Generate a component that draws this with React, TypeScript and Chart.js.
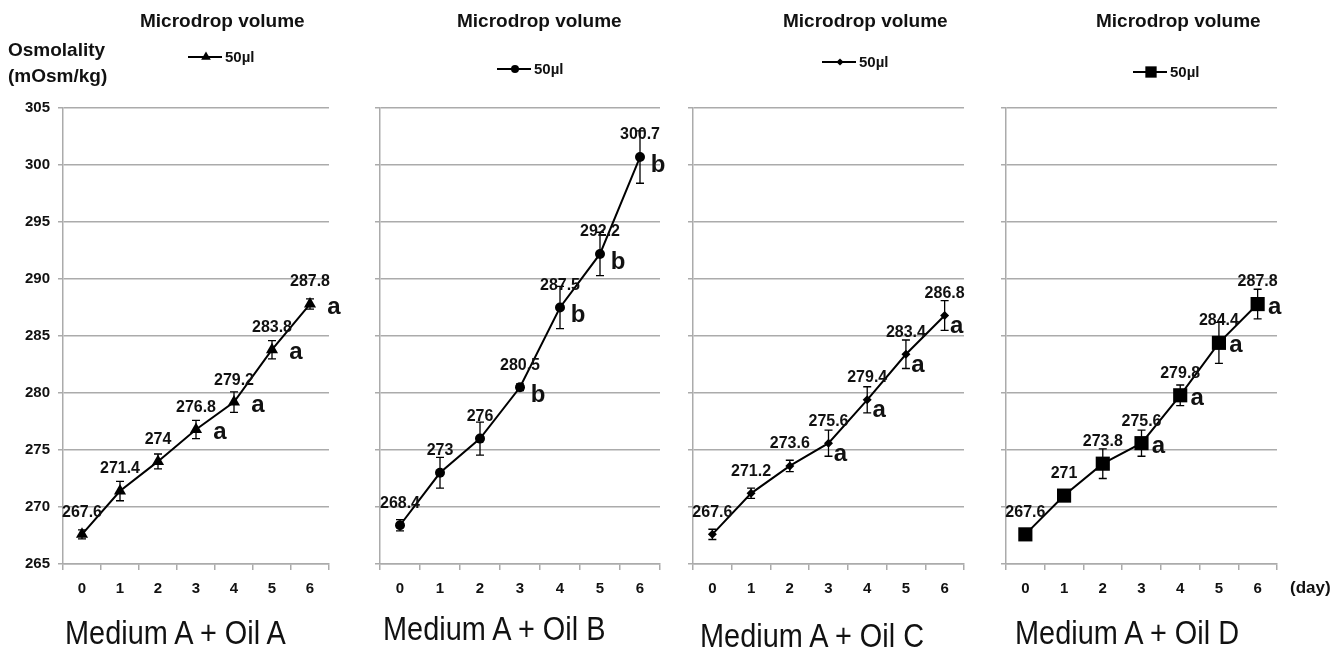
import React, { useEffect, useRef } from 'react';
import { Chart, registerables } from 'chart.js';

Chart.register(...registerables);

// ---------- data ----------
const days = ['0', '1', '2', '3', '4', '5', '6'];
const yMin = 265;
const yMax = 305;
const yStep = 5;

const oilAValues = [267.6, 271.4, 274, 276.8, 279.2, 283.8, 287.8];
const oilAErrors = [0.4, 0.85, 0.65, 0.8, 0.9, 0.8, 0.45];
const oilALetters = ['', '', '', 'a', 'a', 'a', 'a'];

const oilBValues = [268.4, 273, 276, 280.5, 287.5, 292.2, 300.7];
const oilBErrors = [0.5, 1.35, 1.45, 0.3, 1.85, 1.9, 2.3];
const oilBLetters = ['', '', '', 'b', 'b', 'b', 'b'];

const oilCValues = [267.6, 271.2, 273.6, 275.6, 279.4, 283.4, 286.8];
const oilCErrors = [0.45, 0.45, 0.5, 1.15, 1.15, 1.25, 1.3];
const oilCLetters = ['', '', '', 'a', 'a', 'a', 'a'];

const oilDValues = [267.6, 271, 273.8, 275.6, 279.8, 284.4, 287.8];
const oilDErrors = [0, 0, 1.3, 1.15, 0.9, 1.8, 1.3];
const oilDLetters = ['', '', '', 'a', 'a', 'a', 'a'];

const captions = ['Medium A + Oil A', 'Medium A + Oil B', 'Medium A + Oil C', 'Medium A + Oil D'];
const headerText = 'Microdrop volume';
const legendText = '50µl';
const yTitleLines = ['Osmolality', '(mOsm/kg)'];
const xUnitText = '(day)';

// ---------- layout / style ----------
const W = 1338;
const H = 649;
const PLOT_TOP = 108;
const PLOT_BOTTOM = 564;
const Y_AXIS_W = 40;
const FONT = "'Liberation Sans', Arial, sans-serif";
const GRID = '#ababab';
const INK = '#111';

type Marker = 'triangle' | 'circle' | 'rectRot' | 'rect';

interface PanelCfg {
  values: number[];
  errors: number[];
  letters: string[];
  caption: string;
  marker: Marker;
  radius: number;
  plotLeft: number;
  plotRight: number;
  letterDx: number;
  letterDy: number;
  legendX: number;
  legendY: number;
  headerX: number;
  captionX: number;
  captionY: number;
  showYLabels: boolean;
}

const panels: PanelCfg[] = [
  {
    values: oilAValues, errors: oilAErrors, letters: oilALetters, caption: captions[0],
    marker: 'triangle', radius: 7, plotLeft: 63, plotRight: 329,
    letterDx: 24, letterDy: 3, legendX: 188, legendY: 57, headerX: 140,
    captionX: 65, captionY: 632, showYLabels: true,
  },
  {
    values: oilBValues, errors: oilBErrors, letters: oilBLetters, caption: captions[1],
    marker: 'circle', radius: 5, plotLeft: 380, plotRight: 660,
    letterDx: 18, letterDy: 8, legendX: 497, legendY: 69, headerX: 457,
    captionX: 383, captionY: 628, showYLabels: false,
  },
  {
    values: oilCValues, errors: oilCErrors, letters: oilCLetters, caption: captions[2],
    marker: 'rectRot', radius: 4.5, plotLeft: 693, plotRight: 964,
    letterDx: 12, letterDy: 11, legendX: 822, legendY: 62, headerX: 783,
    captionX: 700, captionY: 635, showYLabels: false,
  },
  {
    values: oilDValues, errors: oilDErrors, letters: oilDLetters, caption: captions[3],
    marker: 'rect', radius: 10, plotLeft: 1006, plotRight: 1277,
    letterDx: 17, letterDy: 3, legendX: 1133, legendY: 72, headerX: 1096,
    captionX: 1015, captionY: 632, showYLabels: false,
  },
];

function drawMarker(ctx: CanvasRenderingContext2D, style: Marker, x: number, y: number, r: number) {
  ctx.beginPath();
  if (style === 'circle') {
    ctx.arc(x, y, r, 0, Math.PI * 2);
  } else if (style === 'triangle') {
    for (let k = 0; k < 3; k++) {
      const a = (k * 2 * Math.PI) / 3;
      const px = x + Math.sin(a) * r;
      const py = y - Math.cos(a) * r;
      if (k === 0) ctx.moveTo(px, py);
      else ctx.lineTo(px, py);
    }
    ctx.closePath();
  } else if (style === 'rectRot') {
    ctx.moveTo(x, y - r);
    ctx.lineTo(x + r, y);
    ctx.lineTo(x, y + r);
    ctx.lineTo(x - r, y);
    ctx.closePath();
  } else {
    const s = Math.SQRT1_2 * r;
    ctx.rect(x - s, y - s, 2 * s, 2 * s);
  }
  ctx.fill();
}

function makeOverlay(cfg: PanelCfg) {
  return {
    id: 'overlay',
    afterDatasetsDraw(chart: any) {
      const ctx: CanvasRenderingContext2D = chart.ctx;
      const ys = chart.scales.y;
      const meta = chart.getDatasetMeta(0);
      const vals: number[] = chart.data.datasets[0].data;
      ctx.save();
      ctx.strokeStyle = '#000';
      ctx.lineWidth = 1.3;
      meta.data.forEach((pt: any, i: number) => {
        const e = cfg.errors[i];
        if (!e) return;
        const x = pt.x;
        const yt = ys.getPixelForValue(vals[i] + e);
        const yb = ys.getPixelForValue(vals[i] - e);
        ctx.beginPath();
        ctx.moveTo(x, yt);
        ctx.lineTo(x, yb);
        ctx.moveTo(x - 4, yt);
        ctx.lineTo(x + 4, yt);
        ctx.moveTo(x - 4, yb);
        ctx.lineTo(x + 4, yb);
        ctx.stroke();
      });
      // value labels
      ctx.fillStyle = INK;
      ctx.font = `bold 16px ${FONT}`;
      ctx.textAlign = 'center';
      ctx.textBaseline = 'middle';
      meta.data.forEach((pt: any, i: number) => {
        ctx.fillText(String(vals[i]), pt.x, pt.y - 22);
      });
      // significance letters
      ctx.font = `bold 24px ${FONT}`;
      meta.data.forEach((pt: any, i: number) => {
        const l = cfg.letters[i];
        if (!l) return;
        ctx.fillText(l, pt.x + cfg.letterDx, pt.y + cfg.letterDy);
      });
      // legend
      ctx.strokeStyle = '#000';
      ctx.lineWidth = 2;
      ctx.beginPath();
      ctx.moveTo(cfg.legendX, cfg.legendY);
      ctx.lineTo(cfg.legendX + 34, cfg.legendY);
      ctx.stroke();
      ctx.fillStyle = '#000';
      drawMarker(ctx, cfg.marker, cfg.legendX + 18, cfg.legendY, cfg.radius * 0.8);
      ctx.fillStyle = INK;
      ctx.font = `bold 15px ${FONT}`;
      ctx.textAlign = 'left';
      ctx.fillText(legendText, cfg.legendX + 37, cfg.legendY + 1);
      ctx.restore();
    },
  };
}

function PanelChart({ cfg }: { cfg: PanelCfg }) {
  const ref = useRef<HTMLCanvasElement | null>(null);
  useEffect(() => {
    if (!ref.current) return;
    const chart = new Chart(ref.current, {
      type: 'line',
      data: {
        labels: days,
        datasets: [
          {
            data: cfg.values,
            borderColor: '#000',
            borderWidth: 2,
            backgroundColor: '#000',
            pointStyle: cfg.marker,
            pointRadius: cfg.radius,
            pointBackgroundColor: '#000',
            pointBorderColor: '#000',
            pointBorderWidth: 0,
            tension: 0,
            fill: false,
          },
        ],
      },
      options: {
        responsive: false,
        animation: false,
        devicePixelRatio: 1,
        events: [],
        layout: {
          padding: {
            left: cfg.plotLeft - Y_AXIS_W,
            right: W - cfg.plotRight,
            top: PLOT_TOP,
            bottom: 0,
          },
        },
        plugins: {
          legend: { display: false },
          tooltip: { enabled: false },
          title: { display: false },
        },
        scales: {
          x: {
            type: 'category',
            offset: true,
            grid: {
              offset: true,
              drawOnChartArea: false,
              drawTicks: true,
              tickLength: 6,
              color: GRID,
              lineWidth: 1.5,
            },
            border: { color: GRID, width: 1.5 },
            ticks: {
              color: INK,
              font: { family: FONT, size: 15, weight: 'bold' },
              padding: 10,
              maxRotation: 0,
              autoSkip: false,
            },
            afterFit: (s: any) => {
              s.height = H - PLOT_BOTTOM;
            },
          },
          y: {
            min: yMin,
            max: yMax,
            ticks: {
              stepSize: yStep,
              display: cfg.showYLabels,
              color: INK,
              font: { family: FONT, size: 15, weight: 'bold' },
              padding: 8,
            },
            grid: {
              color: GRID,
              lineWidth: 1.5,
              tickLength: 5,
              drawTicks: true,
            },
            border: { color: GRID, width: 1.5 },
            afterFit: (s: any) => {
              s.width = Y_AXIS_W;
            },
          },
        },
      } as any,
      plugins: [makeOverlay(cfg)],
    });
    return () => chart.destroy();
  }, [cfg]);
  return (
    <canvas
      ref={ref}
      width={W}
      height={H}
      style={{ position: 'absolute', left: 0, top: 0, width: W, height: H }}
    />
  );
}

const textBase: React.CSSProperties = {
  position: 'absolute',
  fontFamily: FONT,
  color: INK,
  lineHeight: 1,
  whiteSpace: 'nowrap',
};

export default function App() {
  return (
    <div
      style={{
        position: 'fixed',
        left: 0,
        top: 0,
        width: W,
        height: H,
        background: '#fff',
        overflow: 'hidden',
      }}
    >
      {panels.map((p, i) => (
        <PanelChart key={i} cfg={p} />
      ))}
      {panels.map((p, i) => (
        <div
          key={'h' + i}
          style={{ ...textBase, left: p.headerX, top: 11, fontSize: 19, fontWeight: 'bold' }}
        >
          {headerText}
        </div>
      ))}
      {panels.map((p, i) => (
        <div
          key={'c' + i}
          style={{
            ...textBase,
            left: p.captionX,
            top: p.captionY - 17,
            fontSize: 34,
            transform: 'scaleX(0.85)',
            transformOrigin: 'left top',
          }}
        >
          {p.caption}
        </div>
      ))}
      <div style={{ ...textBase, left: 8, top: 40, fontSize: 19, fontWeight: 'bold' }}>{yTitleLines[0]}</div>
      <div style={{ ...textBase, left: 8, top: 66, fontSize: 19, fontWeight: 'bold' }}>{yTitleLines[1]}</div>
      <div style={{ ...textBase, left: 1290, top: 579, fontSize: 17, fontWeight: 'bold' }}>{xUnitText}</div>
    </div>
  );
}
